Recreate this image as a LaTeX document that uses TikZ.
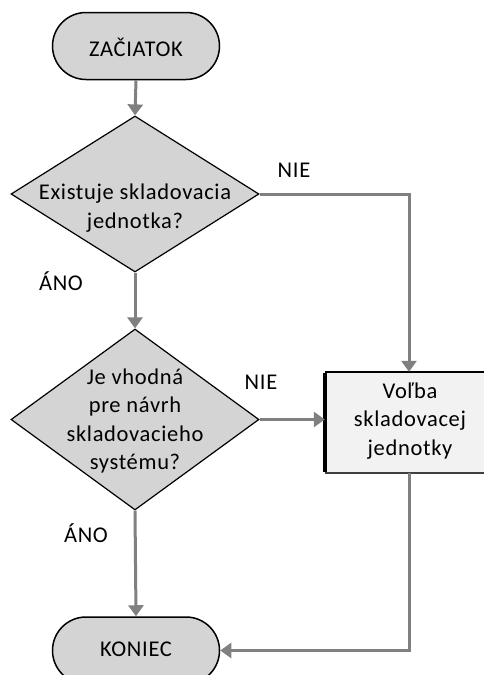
\documentclass[tikz,border=0pt]{standalone}
\usepackage{fontspec}
\setmainfont{Carlito}[LetterSpace=3]
\usetikzlibrary{arrows.meta,shapes.geometric}
\definecolor{shapefill}{HTML}{D4D4D4}
\definecolor{boxfill}{HTML}{F2F2F2}
\definecolor{conn}{HTML}{808080}
\begin{document}
\begin{tikzpicture}[x=1pt,y=-1pt,
  every node/.style={font=\fontsize{22.5}{28.5}\selectfont},
  term/.style={draw=black, line width=1.5pt, fill=shapefill, rectangle, rounded corners=33.5pt, minimum width=167pt, minimum height=67pt, inner sep=0pt},
  dia/.style={draw=black, line width=1.2pt, fill=shapefill, diamond, inner sep=0pt, minimum width=248pt},
  txt/.style={align=center, inner sep=0pt},
  lbl/.style={inner sep=0pt},
  conn/.style={draw=conn, line width=3pt, -{Triangle[width=15pt,length=11pt]}},
  connline/.style={draw=conn, line width=3pt}
]
\useasboundingbox (0,0) rectangle (484,675);

\node[term] (start) at (136,46) {};
\node[txt] (starttxt) at (136,47) {ZAČIATOK};

\node[dia, minimum height=156pt] (d1) at (135,194) {};
\node[txt] (d1txt) at (135,208) {Existuje skladovacia\\jednotka?};

\node[dia, minimum height=181pt] (d2) at (135,419.5) {};
\node[txt] (d2txt) at (135,421) {Je vhodná\\pre návrh\\skladovacieho\\systému?};

\node[rectangle, fill=boxfill, minimum width=168pt, minimum height=101pt, inner sep=0pt] (box) at (409,422.5) {};
\draw[black, line width=2.5pt] (box.north west) -- (box.north east);
\draw[black!75, line width=2.5pt] (box.south west) -- (box.south east);
\draw[black, line width=4pt] ([yshift=-1pt]box.north west) -- ([yshift=1pt]box.south west);
\node[txt] (boxtxt) at (410,421) {Voľba\\skladovacej\\jednotky};

\node[term] (end) at (136,650.5) {};
\node[txt] (endtxt) at (136,649) {KONIEC};

\node[lbl] (nie1) at (294,170) {NIE};
\node[lbl] (ano1) at (61,281) {ÁNO};
\node[lbl] (nie2) at (261,382) {NIE};
\node[lbl] (ano2) at (86,533) {ÁNO};

\coordinate (c1) at (box.north |- d1.east);
\coordinate (c2) at (box.south |- end.east);
\coordinate (c3) at (d2.east -| box.west);

\draw[conn] (start.south) -- (d1.north);
\draw[conn] (d1.south) -- (d2.north);
\draw[conn] (d2.south) -- (end.north);
\draw[conn] (d2.east) -- (c3);
\draw[conn] (d1.east) -- (c1) -- (box.north);
\draw[conn] (box.south) -- (c2) -- (end.east);
\end{tikzpicture}
\end{document}
